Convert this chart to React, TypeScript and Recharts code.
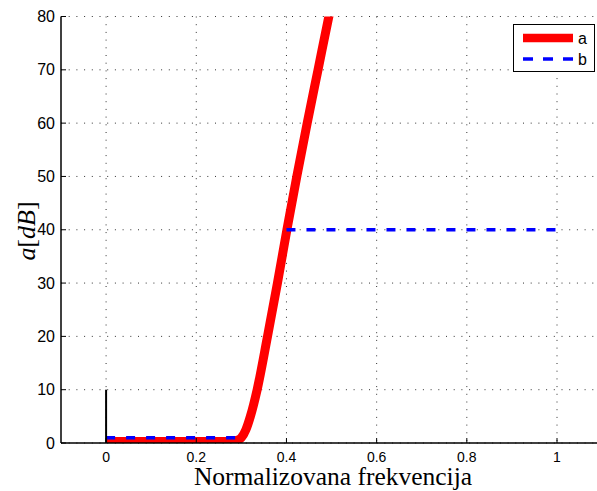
import React from 'react';
import {
  LineChart,
  Line,
  XAxis,
  YAxis,
  CartesianGrid,
  Legend,
} from 'recharts';

// Slabljenje filtra (kriva a), očitano sa slike
const frekA = [0, 0.1, 0.2, 0.27, 0.29, 0.3, 0.31, 0.32, 0.335, 0.358, 0.38, 0.401, 0.423, 0.446, 0.47, 0.494, 0.519];
const slabA = [0.3, 0.3, 0.3, 0.3, 0.5, 1, 2.5, 5, 10, 20, 30, 40, 50, 60, 70, 80, 90];

// Gabarit (kriva b): propusni i nepropusni opseg
const frekB = [0, 0.3, 0.35, 0.4, 1];
const slabB: (number | null)[] = [1, 1, null, 40, 40];

// Crna vertikalna linija u nuli
const frekC = [0, 0];
const slabC = [0, 10];

const xTicks = [0, 0.2, 0.4, 0.6, 0.8, 1];
const yTicks = [0, 10, 20, 30, 40, 50, 60, 70, 80];

const podaciA = frekA.map((f, i) => ({ f, v: slabA[i] }));
const podaciB = frekB.map((f, i) => ({ f, v: slabB[i] }));
const podaciC = frekC.map((f, i) => ({ f, v: slabC[i] }));

const sans = '"Liberation Sans", Arial, Helvetica, sans-serif';
const serif = '"Liberation Serif", "Times New Roman", serif';

const YLabel = () => (
  <text
    x={26}
    y={231}
    transform="rotate(-90, 26, 231)"
    textAnchor="middle"
    dominantBaseline="central"
    style={{ fontFamily: serif, fontSize: 26, fill: '#000' }}
  >
    <tspan fontStyle="italic">a</tspan>
    <tspan>[</tspan>
    <tspan fontStyle="italic">dB</tspan>
    <tspan>]</tspan>
  </text>
);

const XLabel = () => (
  <text
    x={333}
    y={484.5}
    textAnchor="middle"
    style={{ fontFamily: serif, fontSize: 25.5, fill: '#000' }}
  >
    Normalizovana frekvencija
  </text>
);

const Legenda = () => (
  <svg width={82} height={48} style={{ display: 'block' }}>
    <rect x={0.5} y={0.5} width={81} height={47} fill="#fff" stroke="#000" strokeWidth={1} />
    <line x1={10} y1={14} x2={60} y2={14} stroke="#ff0000" strokeWidth={8.5} />
    <text x={65} y={19.5} style={{ fontFamily: sans, fontSize: 16 }}>a</text>
    <line x1={10} y1={35} x2={60} y2={35} stroke="#0000ff" strokeWidth={3.5} strokeDasharray="10 10" />
    <text x={65} y={40.5} style={{ fontFamily: sans, fontSize: 16 }}>b</text>
  </svg>
);

export default function App() {
  return (
    <div
      style={{
        position: 'absolute',
        left: 0,
        top: 0,
        width: 597,
        height: 491,
        overflow: 'hidden',
        background: '#fff',
      }}
    >
      <LineChart
        width={610}
        height={491}
        margin={{ top: 16.5, right: 7.9, bottom: 0, left: 0 }}
      >
        <CartesianGrid
          stroke="#333"
          strokeDasharray="1 6.7"
          strokeWidth={1}
          horizontalValues={yTicks}
          verticalValues={xTicks}
        />
        <XAxis
          dataKey="f"
          type="number"
          domain={[-0.1, 1.1]}
          ticks={xTicks}
          allowDataOverflow
          height={48}
          tickSize={-5}
          tickMargin={14}
          axisLine={{ stroke: '#000', strokeWidth: 1.5 }}
          tickLine={{ stroke: '#000' }}
          tick={{ fill: '#000', fontFamily: sans, fontSize: 14 }}
          label={<XLabel />}
        />
        <XAxis
          xAxisId="top"
          orientation="top"
          dataKey="f"
          type="number"
          domain={[-0.1, 1.1]}
          ticks={xTicks}
          height={0}
          tickSize={-5}
          tick={false}
          axisLine={{ stroke: '#000', strokeWidth: 1.5 }}
          tickLine={{ stroke: '#000' }}
        />
        <YAxis
          type="number"
          domain={[0, 80]}
          ticks={yTicks}
          allowDataOverflow
          width={61}
          tickSize={-5}
          tickMargin={11}
          axisLine={{ stroke: '#000', strokeWidth: 1.5 }}
          tickLine={{ stroke: '#000' }}
          tick={{ fill: '#000', fontFamily: sans, fontSize: 16 }}
          label={<YLabel />}
        />
        <Legend
          layout="horizontal"
          verticalAlign="middle"
          align="center"
          content={() => <Legenda />}
          wrapperStyle={{ position: 'absolute', left: 513, top: 24, width: 82, height: 48 }}
        />
        <Line
          data={podaciA}
          dataKey="v"
          name="a"
          type="monotone"
          stroke="#ff0000"
          strokeWidth={9}
          dot={false}
          isAnimationActive={false}
        />
        <Line
          data={podaciB}
          dataKey="v"
          name="b"
          type="linear"
          stroke="#0000ff"
          strokeWidth={3.5}
          strokeDasharray="9 11"
          dot={false}
          connectNulls={false}
          isAnimationActive={false}
        />
        <Line
          data={podaciC}
          dataKey="v"
          name="c"
          type="linear"
          stroke="#000"
          strokeWidth={2}
          dot={false}
          legendType="none"
          isAnimationActive={false}
        />
      </LineChart>
    </div>
  );
}
